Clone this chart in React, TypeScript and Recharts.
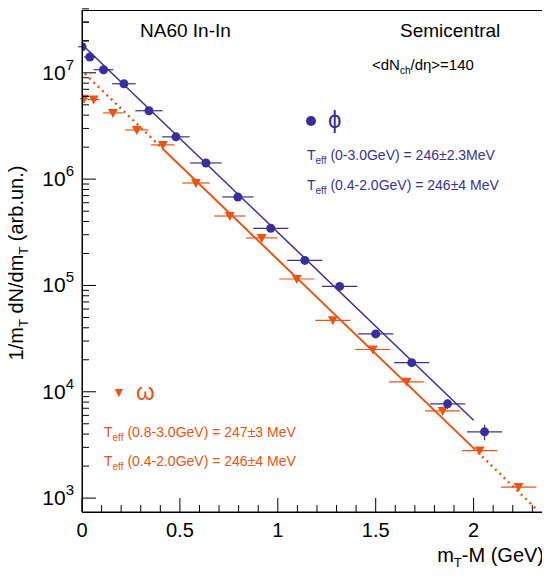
import React from "react";
import { ComposedChart, Scatter, Line, XAxis, YAxis, ErrorBar } from "recharts";

const phiX = [0, 0.04, 0.11, 0.214, 0.342, 0.48, 0.633, 0.796, 0.964, 1.138, 1.316, 1.5, 1.684, 1.867, 2.056];
const phiY = [1.76e7, 1.41e7, 1.07e7, 7.9e6, 4.4e6, 2.5e6, 1.42e6, 6.8e5, 3.45e5, 1.72e5, 9.8e4, 3.5e4, 1.88e4, 7.7e3, 4.2e3];
const phiEx = [0.02, 0.03, 0.05, 0.06, 0.07, 0.07, 0.08, 0.08, 0.09, 0.09, 0.09, 0.09, 0.09, 0.09, 0.09];
const phiEy = [0, 0, 0, 0, 0, 0, 0, 0, 0, 0, 0, 0, 1000, 800, 700];

const omX = [0.01, 0.06, 0.158, 0.28, 0.413, 0.582, 0.755, 0.918, 1.097, 1.281, 1.485, 1.658, 1.842, 2.031, 2.23];
const omY = [5.7e6, 5.6e6, 4.2e6, 2.9e6, 2.1e6, 9.2e5, 4.5e5, 2.8e5, 1.15e5, 4.7e4, 2.5e4, 1.24e4, 6.6e3, 2.8e3, 1.27e3];
const omEx = [0.02, 0.03, 0.05, 0.06, 0.06, 0.07, 0.08, 0.08, 0.09, 0.09, 0.09, 0.09, 0.09, 0.09, 0.09];

const phiFit = [{ x: 0, y: 1.85e7 }, { x: 2.0, y: 5.4e3 }];
const omFitSolid = [{ x: 0.42, y: 1.87e6 }, { x: 2.0, y: 2.95e3 }];
const omFitDotL = [{ x: 0.015, y: 9.8e6 }, { x: 0.42, y: 1.87e6 }];
const omFitDotR = [{ x: 2.0, y: 2.95e3 }, { x: 2.32, y: 7.9e2 }];

const xMajor = [0, 0.5, 1, 1.5, 2];
const xTicks = Array.from({ length: 24 }, (_, i) => Math.round(i * 10) / 100);
const yMajor = [1e3, 1e4, 1e5, 1e6, 1e7];
const yTicks = [1e3, 1e4, 1e5, 1e6, 1e7].flatMap((d) => [1, 2, 3, 4, 5, 6, 7, 8, 9].map((m) => m * d)).concat([1e8 / 10 * 2, 3e7]);

const BLUE = "#3a2f9a";
const ORANGE = "#ea5414";
const FONT = "'Liberation Sans', Arial, sans-serif";
const PLOT_LEFT = 82;
const PLOT_BOTTOM = 512;

const phiData = phiX.map((x, i) => ({ x, y: phiY[i], ex: phiEx[i], ey: phiEy[i] }));
const omData = omX.map((x, i) => ({ x, y: omY[i], ex: omEx[i] }));

const Circle = (p: any) => <circle cx={p.cx} cy={p.cy} r={4.5} fill={BLUE} />;
const Tri = (p: any) => (
  <polygon points={`${p.cx - 5},${p.cy - 4} ${p.cx + 5},${p.cy - 4} ${p.cx},${p.cy + 5}`} fill={ORANGE} />
);

const YTick = (p: any) => {
  const v = p.payload.value;
  const major = yMajor.some((m) => Math.abs(m - v) < 1e-6 * m);
  const cy = p.payload.coordinate;
  const e = Math.round(Math.log10(v));
  return (
    <g>
      <line x1={PLOT_LEFT} x2={PLOT_LEFT + (major ? 14 : 7)} y1={cy} y2={cy} stroke="#000" />
      {major && (
        <text x={PLOT_LEFT - 8} y={cy + 7} textAnchor="end" fontSize={21} fontFamily={FONT}>
          10<tspan dy={-10} fontSize={15}>{e}</tspan>
        </text>
      )}
    </g>
  );
};

const XTick = (p: any) => {
  const v = p.payload.value;
  const major = xMajor.some((m) => Math.abs(m - v) < 1e-6);
  const cx = p.payload.coordinate;
  return (
    <g>
      <line x1={cx} x2={cx} y1={PLOT_BOTTOM} y2={PLOT_BOTTOM - (major ? 14 : 7)} stroke="#000" />
      {major && (
        <text x={cx} y={PLOT_BOTTOM + 25} textAnchor="middle" fontSize={20} fontFamily={FONT}>{String(v)}</text>
      )}
    </g>
  );
};

export default function App() {
  return (
    <div style={{ position: "relative", width: 550, height: 580, margin: -8, background: "#fff", fontFamily: FONT }}>
      <ComposedChart width={550} height={580} margin={{ top: 10, right: 2, bottom: 38, left: 12 }}>
        <XAxis type="number" dataKey="x" domain={[0, 2.38]} ticks={xTicks} allowDataOverflow interval={0}
          tick={<XTick />} tickLine={false} stroke="#000" />
        <YAxis type="number" dataKey="y" scale="log" domain={[740, 3.9e7]} ticks={yTicks} allowDataOverflow interval={0}
          width={70} tick={<YTick />} tickLine={false} stroke="#000" />
        <Line data={omFitDotL} dataKey="y" stroke={ORANGE} strokeWidth={2.5} strokeDasharray="2 4" dot={false} isAnimationActive={false} />
        <Line data={omFitDotR} dataKey="y" stroke={ORANGE} strokeWidth={2.5} strokeDasharray="2 4" dot={false} isAnimationActive={false} />
        <Line data={omFitSolid} dataKey="y" stroke={ORANGE} strokeWidth={2} dot={false} isAnimationActive={false} />
        <Line data={phiFit} dataKey="y" stroke={BLUE} strokeWidth={1.5} dot={false} isAnimationActive={false} />
        <Scatter data={omData} shape={<Tri />} isAnimationActive={false}>
          <ErrorBar dataKey="ex" direction="x" width={0} stroke={ORANGE} strokeWidth={1.2} />
        </Scatter>
        <Scatter data={phiData} shape={<Circle />} isAnimationActive={false}>
          <ErrorBar dataKey="ex" direction="x" width={0} stroke={BLUE} strokeWidth={1.2} />
          <ErrorBar dataKey="ey" direction="y" width={0} stroke={BLUE} strokeWidth={1.2} />
        </Scatter>
      </ComposedChart>
      <div style={{ position: "absolute", left: 82, top: 10, width: 466, height: 503, border: "1px solid #000", boxSizing: "border-box", pointerEvents: "none" }} />
      <div style={{ position: "absolute", left: 140, top: 20, fontSize: 19 }}>NA60 In-In</div>
      <div style={{ position: "absolute", left: 400, top: 20, fontSize: 19 }}>Semicentral</div>
      <div style={{ position: "absolute", left: 372, top: 56, fontSize: 15 }}>
        &lt;dN<sub style={{ fontSize: 10 }}>ch</sub>/dη&gt;=140
      </div>
      <div style={{ position: "absolute", left: 306, top: 116, width: 10, height: 10, borderRadius: 5, background: BLUE }} />
      <div style={{ position: "absolute", left: 328, top: 106, fontSize: 24, color: BLUE }}>ϕ</div>
      <div style={{ position: "absolute", left: 307, top: 147, fontSize: 14, color: BLUE }}>
        T<sub style={{ fontSize: 10 }}>eff</sub> (0-3.0GeV) = 246±2.3MeV
      </div>
      <div style={{ position: "absolute", left: 307, top: 177, fontSize: 14, color: BLUE }}>
        T<sub style={{ fontSize: 10 }}>eff</sub> (0.4-2.0GeV) = 246±4 MeV
      </div>
      <div style={{ position: "absolute", left: 112, top: 384, fontSize: 14, color: ORANGE }}>▼</div>
      <div style={{ position: "absolute", left: 136, top: 378, fontSize: 24, color: ORANGE }}>ω</div>
      <div style={{ position: "absolute", left: 104, top: 424, fontSize: 14, color: ORANGE }}>
        T<sub style={{ fontSize: 10 }}>eff</sub> (0.8-3.0GeV) = 247±3 MeV
      </div>
      <div style={{ position: "absolute", left: 104, top: 453, fontSize: 14, color: ORANGE }}>
        T<sub style={{ fontSize: 10 }}>eff</sub> (0.4-2.0GeV) = 246±4 MeV
      </div>
      <div style={{ position: "absolute", right: 6, top: 544, fontSize: 20 }}>
        m<sub style={{ fontSize: 13 }}>T</sub>-M (GeV)
      </div>
      <div style={{ position: "absolute", left: -132, top: 250, width: 300, textAlign: "center", transform: "rotate(-90deg)", fontSize: 20, whiteSpace: "nowrap" }}>
        1/m<sub style={{ fontSize: 13 }}>T</sub> dN/dm<sub style={{ fontSize: 13 }}>T</sub> (arb.un.)
      </div>
    </div>
  );
}
